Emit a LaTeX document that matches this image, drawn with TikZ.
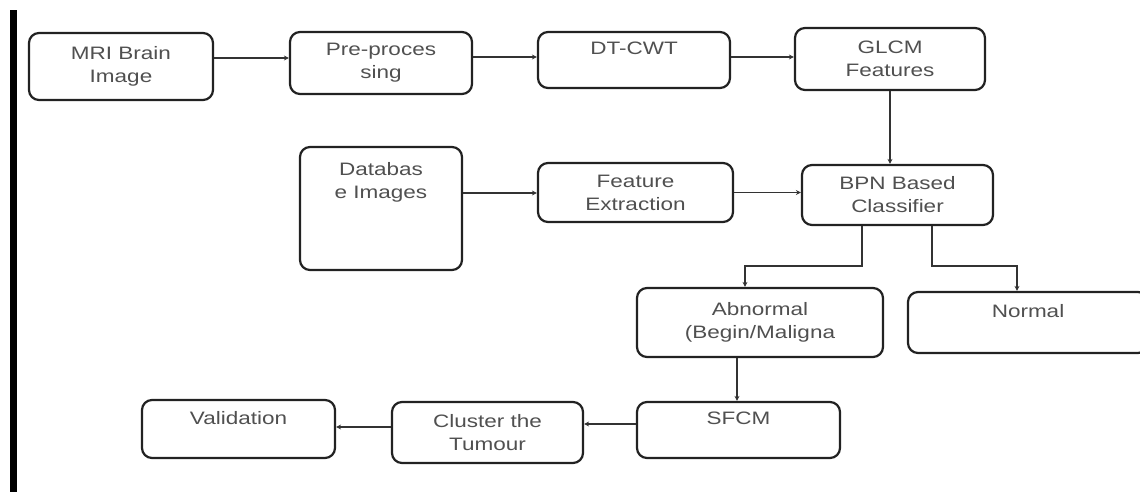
\documentclass[tikz,border=0pt]{standalone}
\usepackage{fontspec}
\setmainfont{Liberation Sans}[FakeStretch=1.25]
\usetikzlibrary{arrows.meta}
\definecolor{boxline}{HTML}{222222}
\definecolor{txt}{HTML}{505050}
\definecolor{conn}{HTML}{333333}
\tikzset{
  box/.style={draw=boxline, line width=2.2pt, rounded corners=10pt, inner sep=0pt,
    align=center, text=txt, font=\fontsize{18}{23}\selectfont},
  arr/.style={draw=conn, line width=1.4pt, -{Stealth[length=5pt,width=5pt]}},
  bar/.style={fill=black, draw=none}
}
\begin{document}
\begin{tikzpicture}[x=1pt,y=-1pt]
\clip (0,0) rectangle (1140,492);
\fill[white] (0,0) rectangle (1140,492);
\fill[bar] (10,10) rectangle (17,492);
% top row
\node[box, minimum width=184pt, minimum height=67pt] (mri) at (121,66.5) {MRI Brain\\Image};
\node[box, minimum width=182pt, minimum height=62pt] (pre) at (381,63) {Pre-proces\\sing};
\node[box, minimum width=192pt, minimum height=56pt] (dt) at (634,60) {DT-CWT\\~};
\node[box, minimum width=190pt, minimum height=62pt] (glcm) at (890,59) {GLCM\\Features};
% middle row
\node[box, minimum width=162pt, minimum height=123pt] (db) at (381,208.5) {};
\node[align=center, text=txt, font=\fontsize{18}{23}\selectfont, inner sep=0pt] (dbt) at (381,182.5) {Databas\\e Images};
\node[box, minimum width=195pt, minimum height=59pt] (fe) at (635.5,192.5) {Feature\\Extraction};
\node[box, minimum width=191pt, minimum height=60pt] (bpn) at (897.5,195) {BPN Based\\Classifier};
% classes
\node[box, minimum width=246pt, minimum height=69pt] (abn) at (760,322.5) {Abnormal\\(Begin/Maligna};
\node[box, minimum width=240pt, minimum height=61pt] (nor) at (1028,322.5) {Normal\\~};
% bottom row
\node[box, minimum width=203pt, minimum height=56pt] (sfcm) at (738.5,430) {SFCM\\~};
\node[box, minimum width=191pt, minimum height=61pt] (clu) at (487.5,432.5) {Cluster the\\Tumour};
\node[box, minimum width=193pt, minimum height=58pt] (val) at (238.5,429) {Validation\\~};
% connectors
\draw[arr] ([yshift=8.5pt]mri.east) -- ([yshift=8.5pt]mri.east -| pre.west);
\draw[arr] ([yshift=6pt]pre.east) -- ([yshift=6pt]pre.east -| dt.west);
\draw[arr] ([yshift=3pt]dt.east) -- ([yshift=3pt]dt.east -| glcm.west);
\draw[arr] (glcm.south) -- (glcm.south |- bpn.north);
\draw[arr] ([yshift=15.5pt]db.east) -- ([yshift=15.5pt]db.east -| fe.west);
\draw[arr] (fe.east) -- (fe.east -| bpn.west);
\draw[arr] ([xshift=-35.5pt]bpn.south) -- ++(0,40) -| ([xshift=-15pt]abn.north);
\draw[arr] ([xshift=34.5pt]bpn.south) -- ++(0,40) -| ([xshift=-11pt]nor.north);
\draw[arr] ([xshift=-23pt]abn.south) -- ([xshift=-23pt]abn.south |- sfcm.north);
\draw[arr] ([yshift=6pt]sfcm.west) -- ([yshift=6pt]sfcm.west -| clu.east);
\draw[arr] ([yshift=5.5pt]clu.west) -- ([yshift=5.5pt]clu.west -| val.east);
\end{tikzpicture}
\end{document}
